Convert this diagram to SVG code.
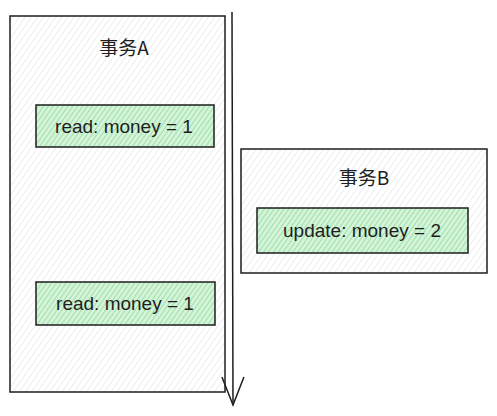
<svg xmlns="http://www.w3.org/2000/svg" width="497" height="416" viewBox="0 0 497 416">
<style>
.outer{fill:url(#hatchGray);stroke:#1e1e1e;stroke-width:1.5}
.inner{fill:url(#hatchGreen);stroke:#1e1e1e;stroke-width:1.5}
.title{font-family:"Noto Sans CJK SC","Liberation Sans",sans-serif;font-size:19px;fill:#1e1e1e;text-anchor:middle}
.label{font-family:"Liberation Sans",sans-serif;font-size:19px;fill:#1e1e1e;text-anchor:middle}
.conn{stroke:#1e1e1e;stroke-width:1.5;fill:none}
</style>
<defs>
<pattern id="hatchGray" patternUnits="userSpaceOnUse" width="5" height="5" patternTransform="rotate(35)">
<rect width="5" height="5" fill="#ffffff"/>
<line x1="0" y1="0" x2="0" y2="5" stroke="#d8dcdf" stroke-width="1"/>
</pattern>
<pattern id="hatchGreen" patternUnits="userSpaceOnUse" width="4" height="4" patternTransform="rotate(35)">
<rect width="4" height="4" fill="#d3f4d8"/>
<line x1="0" y1="0" x2="0" y2="4" stroke="#7fd08c" stroke-width="1.2"/>
</pattern>
<marker id="arrow" markerWidth="32" markerHeight="24" refX="30" refY="12" orient="auto" markerUnits="userSpaceOnUse" viewBox="0 0 32 24">
<path d="M2 1 L30 12 L2 23" fill="none" stroke="#1e1e1e" stroke-width="1.5"/>
</marker>
</defs>
<g id="nodeA">
<rect class="outer" x="10" y="16" width="215" height="376"/>
<text class="title" x="124" y="55">事务A</text>
</g>
<g id="nodeA1">
<rect class="inner" x="36" y="105" width="178" height="42"/>
<text class="label" x="124" y="133">read: money = 1</text>
</g>
<g id="nodeA2">
<rect class="inner" x="36" y="282" width="179" height="43"/>
<text class="label" x="125" y="310">read: money = 1</text>
</g>
<g id="nodeB">
<rect class="outer" x="241" y="149" width="246" height="124"/>
<text class="title" x="364" y="185">事务B</text>
</g>
<g id="nodeB1">
<rect class="inner" x="257" y="208" width="211" height="45"/>
<text class="label" x="362" y="237">update: money = 2</text>
</g>
<g id="connectors">
<line class="conn" x1="232" y1="12" x2="233" y2="405" marker-end="url(#arrow)"/>
</g>
</svg>
